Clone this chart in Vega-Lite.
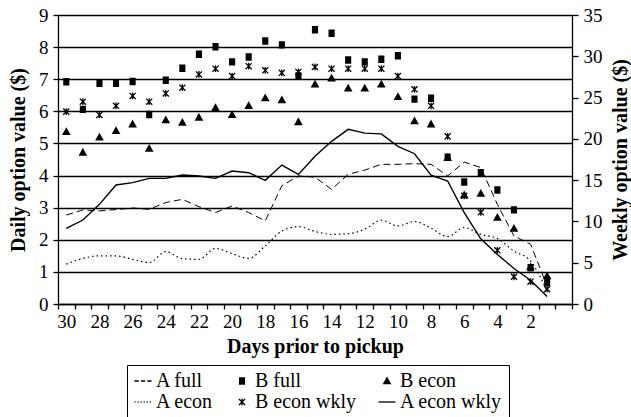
{
  "$schema": "https://vega.github.io/schema/vega-lite/v6.json",
  "width": 514,
  "height": 289,
  "autosize": {"type": "none"},
  "padding": {"left": 58, "top": 15, "right": 59, "bottom": 113},
  "background": "white",
  "config": {
    "view": {"stroke": null},
    "font": "Liberation Serif",
    "axis": {
      "labelFont": "Liberation Serif",
      "labelFontSize": 19,
      "labelColor": "black",
      "titleFont": "Liberation Serif",
      "titleFontSize": 20,
      "titleFontWeight": "bold",
      "titleColor": "black",
      "domainColor": "black",
      "domainWidth": 1.3,
      "tickColor": "black",
      "tickWidth": 1.3
    },
    "legend": {
      "labelFont": "Liberation Serif",
      "labelFontSize": 20,
      "labelColor": "black"
    }
  },
  "data": {
    "values": [
      {"d":30,"s":"A full","v":2.77},{"d":29,"s":"A full","v":2.93},{"d":28,"s":"A full","v":2.90},{"d":27,"s":"A full","v":2.94},{"d":26,"s":"A full","v":2.99},{"d":25,"s":"A full","v":2.95},{"d":24,"s":"A full","v":3.16},{"d":23,"s":"A full","v":3.26},{"d":22,"s":"A full","v":3.03},{"d":21,"s":"A full","v":2.85},{"d":20,"s":"A full","v":3.05},{"d":19,"s":"A full","v":2.85},{"d":18,"s":"A full","v":2.59},{"d":17,"s":"A full","v":3.68},{"d":16,"s":"A full","v":3.99},{"d":15,"s":"A full","v":3.95},{"d":14,"s":"A full","v":3.57},{"d":13,"s":"A full","v":4.04},{"d":12,"s":"A full","v":4.17},{"d":11,"s":"A full","v":4.35},{"d":10,"s":"A full","v":4.35},{"d":9,"s":"A full","v":4.37},{"d":8,"s":"A full","v":4.35},{"d":7,"s":"A full","v":3.99},{"d":6,"s":"A full","v":4.42},{"d":5,"s":"A full","v":4.25},{"d":4,"s":"A full","v":3.10},{"d":3,"s":"A full","v":2.12},{"d":2,"s":"A full","v":1.86},{"d":1,"s":"A full","v":0.56},
      {"d":30,"s":"A econ","v":1.24},{"d":29,"s":"A econ","v":1.42},{"d":28,"s":"A econ","v":1.50},{"d":27,"s":"A econ","v":1.50},{"d":26,"s":"A econ","v":1.39},{"d":25,"s":"A econ","v":1.29},{"d":24,"s":"A econ","v":1.63},{"d":23,"s":"A econ","v":1.41},{"d":22,"s":"A econ","v":1.39},{"d":21,"s":"A econ","v":1.73},{"d":20,"s":"A econ","v":1.57},{"d":19,"s":"A econ","v":1.42},{"d":18,"s":"A econ","v":1.81},{"d":17,"s":"A econ","v":2.27},{"d":16,"s":"A econ","v":2.41},{"d":15,"s":"A econ","v":2.26},{"d":14,"s":"A econ","v":2.17},{"d":13,"s":"A econ","v":2.19},{"d":12,"s":"A econ","v":2.33},{"d":11,"s":"A econ","v":2.61},{"d":10,"s":"A econ","v":2.43},{"d":9,"s":"A econ","v":2.57},{"d":8,"s":"A econ","v":2.36},{"d":7,"s":"A econ","v":2.10},{"d":6,"s":"A econ","v":2.38},{"d":5,"s":"A econ","v":2.17},{"d":4,"s":"A econ","v":2.04},{"d":3,"s":"A econ","v":1.65},{"d":2,"s":"A econ","v":1.34},{"d":1,"s":"A econ","v":0.40},
      {"d":30,"s":"B full","v":6.92},{"d":29,"s":"B full","v":6.06},{"d":28,"s":"B full","v":6.87},{"d":27,"s":"B full","v":6.87},{"d":26,"s":"B full","v":6.93},{"d":25,"s":"B full","v":5.90},{"d":24,"s":"B full","v":6.97},{"d":23,"s":"B full","v":7.34},{"d":22,"s":"B full","v":7.78},{"d":21,"s":"B full","v":8.01},{"d":20,"s":"B full","v":7.54},{"d":19,"s":"B full","v":7.69},{"d":18,"s":"B full","v":8.19},{"d":17,"s":"B full","v":8.07},{"d":16,"s":"B full","v":7.10},{"d":15,"s":"B full","v":8.54},{"d":14,"s":"B full","v":8.43},{"d":13,"s":"B full","v":7.60},{"d":12,"s":"B full","v":7.54},{"d":11,"s":"B full","v":7.62},{"d":10,"s":"B full","v":7.73},{"d":9,"s":"B full","v":6.38},{"d":8,"s":"B full","v":6.41},{"d":7,"s":"B full","v":4.57},{"d":6,"s":"B full","v":3.80},{"d":5,"s":"B full","v":4.09},{"d":4,"s":"B full","v":3.55},{"d":3,"s":"B full","v":2.93},{"d":2,"s":"B full","v":1.13},{"d":1,"s":"B full","v":0.67},
      {"d":30,"s":"B econ","v":5.36},{"d":29,"s":"B econ","v":4.72},{"d":28,"s":"B econ","v":5.19},{"d":27,"s":"B econ","v":5.39},{"d":26,"s":"B econ","v":5.60},{"d":25,"s":"B econ","v":4.84},{"d":24,"s":"B econ","v":5.73},{"d":23,"s":"B econ","v":5.65},{"d":22,"s":"B econ","v":5.81},{"d":21,"s":"B econ","v":6.11},{"d":20,"s":"B econ","v":5.89},{"d":19,"s":"B econ","v":6.17},{"d":18,"s":"B econ","v":6.41},{"d":17,"s":"B econ","v":6.35},{"d":16,"s":"B econ","v":5.67},{"d":15,"s":"B econ","v":6.84},{"d":14,"s":"B econ","v":7.03},{"d":13,"s":"B econ","v":6.72},{"d":12,"s":"B econ","v":6.72},{"d":11,"s":"B econ","v":6.84},{"d":10,"s":"B econ","v":6.45},{"d":9,"s":"B econ","v":5.70},{"d":8,"s":"B econ","v":5.60},{"d":7,"s":"B econ","v":4.55},{"d":6,"s":"B econ","v":3.39},{"d":5,"s":"B econ","v":3.44},{"d":4,"s":"B econ","v":2.69},{"d":3,"s":"B econ","v":2.35},{"d":2,"s":"B econ","v":1.15},{"d":1,"s":"B econ","v":0.87},
      {"d":30,"s":"B econ wkly","v":23.3},{"d":29,"s":"B econ wkly","v":24.5},{"d":28,"s":"B econ wkly","v":22.9},{"d":27,"s":"B econ wkly","v":24.0},{"d":26,"s":"B econ wkly","v":25.2},{"d":25,"s":"B econ wkly","v":24.5},{"d":24,"s":"B econ wkly","v":25.5},{"d":23,"s":"B econ wkly","v":26.2},{"d":22,"s":"B econ wkly","v":27.8},{"d":21,"s":"B econ wkly","v":28.5},{"d":20,"s":"B econ wkly","v":27.6},{"d":19,"s":"B econ wkly","v":28.8},{"d":18,"s":"B econ wkly","v":28.3},{"d":17,"s":"B econ wkly","v":28.0},{"d":16,"s":"B econ wkly","v":28.1},{"d":15,"s":"B econ wkly","v":28.7},{"d":14,"s":"B econ wkly","v":28.5},{"d":13,"s":"B econ wkly","v":28.5},{"d":12,"s":"B econ wkly","v":28.5},{"d":11,"s":"B econ wkly","v":28.5},{"d":10,"s":"B econ wkly","v":27.6},{"d":9,"s":"B econ wkly","v":26.0},{"d":8,"s":"B econ wkly","v":24.0},{"d":7,"s":"B econ wkly","v":20.3},{"d":6,"s":"B econ wkly","v":13.1},{"d":5,"s":"B econ wkly","v":11.1},{"d":4,"s":"B econ wkly","v":6.5},{"d":3,"s":"B econ wkly","v":3.3},{"d":2,"s":"B econ wkly","v":2.7},{"d":1,"s":"B econ wkly","v":1.8},
      {"d":30,"s":"A econ wkly","v":9.17},{"d":29,"s":"A econ wkly","v":10.17},{"d":28,"s":"A econ wkly","v":12.07},{"d":27,"s":"A econ wkly","v":14.41},{"d":26,"s":"A econ wkly","v":14.70},{"d":25,"s":"A econ wkly","v":15.22},{"d":24,"s":"A econ wkly","v":15.22},{"d":23,"s":"A econ wkly","v":15.62},{"d":22,"s":"A econ wkly","v":15.5},{"d":21,"s":"A econ wkly","v":15.22},{"d":20,"s":"A econ wkly","v":16.1},{"d":19,"s":"A econ wkly","v":15.9},{"d":18,"s":"A econ wkly","v":14.98},{"d":17,"s":"A econ wkly","v":16.83},{"d":16,"s":"A econ wkly","v":15.7},{"d":15,"s":"A econ wkly","v":17.9},{"d":14,"s":"A econ wkly","v":19.7},{"d":13,"s":"A econ wkly","v":21.15},{"d":12,"s":"A econ wkly","v":20.7},{"d":11,"s":"A econ wkly","v":20.6},{"d":10,"s":"A econ wkly","v":19.1},{"d":9,"s":"A econ wkly","v":18.2},{"d":8,"s":"A econ wkly","v":15.6},{"d":7,"s":"A econ wkly","v":14.9},{"d":6,"s":"A econ wkly","v":11.07},{"d":5,"s":"A econ wkly","v":7.9},{"d":4,"s":"A econ wkly","v":6.0},{"d":3,"s":"A econ wkly","v":4.3},{"d":2,"s":"A econ wkly","v":2.87},{"d":1,"s":"A econ wkly","v":0.9}
    ]
  },
  "encoding": {
    "x": {
      "field": "d",
      "type": "quantitative",
      "scale": {"domain": [-0.5, 30.5], "reverse": true, "nice": false, "zero": false},
      "axis": {
        "title": "Days prior to pickup",
        "labelFont": "Liberation Serif",
        "titleFont": "Liberation Serif",
        "values": [30.5,29.5,28.5,27.5,26.5,25.5,24.5,23.5,22.5,21.5,20.5,19.5,18.5,17.5,16.5,15.5,14.5,13.5,12.5,11.5,10.5,9.5,8.5,7.5,6.5,5.5,4.5,3.5,2.5,1.5,0.5,-0.5,30,28,26,24,22,20,18,16,14,12,10,8,6,4,2],
        "labelExpr": "datum.value % 1 === 0 ? format(datum.value, 'd') : ''",
        "tickOpacity": {"condition": {"test": "datum.value % 1 !== 0", "value": 1}, "value": 0},
        "tickSize": 5,
        "labelPadding": 3,
        "labelOverlap": false,
        "labelFlush": false,
        "grid": false,
        "titlePadding": 5
      }
    }
  },
  "layer": [
    {
      "encoding": {
        "y": {
          "field": "v",
          "type": "quantitative",
          "scale": {"domain": [0, 9], "nice": false},
          "axis": {
            "title": "Daily option value ($)",
            "labelFont": "Liberation Serif",
            "titleFont": "Liberation Serif",
            "values": [0,1,2,3,4,5,6,7,8,9],
            "grid": true,
            "gridColor": "black",
            "gridWidth": 1.3,
            "tickSize": 5,
            "labelPadding": 5,
            "titlePadding": 10
          }
        }
      },
      "layer": [
        {
          "transform": [{"filter": "datum.s === 'A full'"}],
          "mark": {"type": "line", "color": "black", "strokeWidth": 1, "strokeDash": [7, 4]},
          "encoding": {}
        },
        {
          "transform": [{"filter": "datum.s === 'A econ'"}],
          "mark": {"type": "line", "color": "black", "strokeWidth": 1.2, "strokeDash": [1.5, 3], "interpolate": "monotone"},
          "encoding": {}
        },
        {
          "transform": [{"filter": "datum.s === 'B full' || datum.s === 'B econ'"}],
          "mark": {"type": "point", "filled": false, "color": "black", "opacity": 1, "size": 289, "strokeWidth": 1.3},
          "encoding": {
            "shape": {
              "field": "s",
              "type": "nominal",
              "scale": {
                "domain": ["A full", "B full", "B econ", "A econ", "B econ wkly", "A econ wkly"],
                "range": [
                  "M-1,0H-0.5M-0.25,0H0.25M0.5,0H1",
                  "M-0.36,-0.36H0.36M-0.36,-0.24H0.36M-0.36,-0.12H0.36M-0.36,0H0.36M-0.36,0.12H0.36M-0.36,0.24H0.36M-0.36,0.36H0.36",
                  "M0,-0.38L0.38,0.3H-0.38ZM-0.07,-0.25H0.07M-0.14,-0.13H0.14M-0.2,-0.01H0.2M-0.26,0.1H0.26M-0.32,0.2H0.32",
                  "M-1,0H-0.88M-0.64,0H-0.52M-0.28,0H-0.16M0.08,0H0.2M0.44,0H0.56M0.8,0H0.92",
                  "M-0.36,-0.36L0.36,0.36M-0.36,0.36L0.36,-0.36M0,-0.4V0.4",
                  "M-1,0H1"
                ]
              },
              "legend": {
                "title": null,
                "orient": "none",
                "legendX": 69,
                "legendY": 350,
                "direction": "horizontal",
                "columns": 3,
                "columnPadding": 18,
                "rowPadding": 1,
                "padding": 6,
                "labelOffset": 3,
                "symbolSize": 289,
                "symbolStrokeColor": "black",
                "symbolFillColor": "transparent",
                "symbolStrokeWidth": 1.3,
                "symbolOpacity": 1,
                "strokeColor": "black",
                "fillColor": "white",
                "labelLimit": 200,
                "labelFont": "Liberation Serif"
              }
            }
          }
        }
      ]
    },
    {
      "encoding": {
        "y": {
          "field": "v",
          "type": "quantitative",
          "scale": {"domain": [0, 35], "nice": false},
          "axis": {
            "title": "Weekly option value ($)",
            "labelFont": "Liberation Serif",
            "titleFont": "Liberation Serif",
            "orient": "right",
            "values": [0,5,10,15,20,25,30,35],
            "grid": false,
            "tickSize": 6,
            "labelPadding": 5,
            "titlePadding": 8,
            "titleAngle": 270,
            "titleBaseline": "top"
          }
        }
      },
      "layer": [
        {
          "transform": [{"filter": "datum.s === 'A econ wkly'"}],
          "mark": {"type": "line", "color": "black", "strokeWidth": 1.4},
          "encoding": {}
        },
        {
          "transform": [{"filter": "datum.s === 'B econ wkly'"}],
          "mark": {"type": "point", "filled": false, "color": "black", "opacity": 1, "size": 289, "strokeWidth": 1.3},
          "encoding": {
            "shape": {
              "field": "s",
              "type": "nominal",
              "scale": {
                "domain": ["A full", "B full", "B econ", "A econ", "B econ wkly", "A econ wkly"],
                "range": [
                  "M-1,0H-0.5M-0.25,0H0.25M0.5,0H1",
                  "M-0.36,-0.36H0.36M-0.36,-0.24H0.36M-0.36,-0.12H0.36M-0.36,0H0.36M-0.36,0.12H0.36M-0.36,0.24H0.36M-0.36,0.36H0.36",
                  "M0,-0.38L0.38,0.3H-0.38ZM-0.07,-0.25H0.07M-0.14,-0.13H0.14M-0.2,-0.01H0.2M-0.26,0.1H0.26M-0.32,0.2H0.32",
                  "M-1,0H-0.88M-0.64,0H-0.52M-0.28,0H-0.16M0.08,0H0.2M0.44,0H0.56M0.8,0H0.92",
                  "M-0.36,-0.36L0.36,0.36M-0.36,0.36L0.36,-0.36M0,-0.4V0.4",
                  "M-1,0H1"
                ]
              }
            }
          }
        }
      ]
    }
  ],
  "resolve": {"scale": {"y": "independent"}}
}
